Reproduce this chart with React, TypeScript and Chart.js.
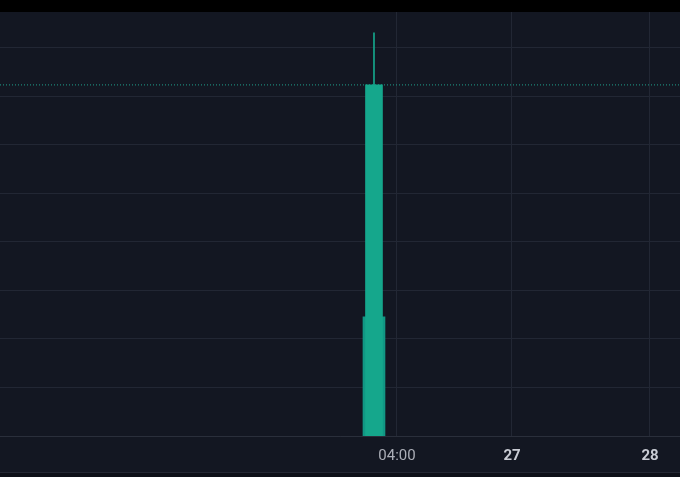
import React, { useEffect, useRef } from "react";
import { Chart, registerables } from "chart.js";

Chart.register(...registerables);

// hours relative to the candle's open time (26th, 00:00)
const candleHours: number[] = [0];
const opens: number[] = [95];
const highs: number[] = [183.1];
const lows: number[] = [90];
const closes: number[] = [172.4];
const volumes: number[] = [28.1];

const priceGrid: number[] = [100, 110, 120, 130, 140, 150, 160, 170, 180];
const timeTicks: number[] = [4, 24, 48];
const timeLabels: string[] = ["04:00", "27", "28"];
const dayTicks: number[] = [24, 48];

const X_MIN = -65.04;
const X_MAX = 53.22;
const Y_MIN = 100;
const Y_MAX = 187.42;

const UP = "#15a78c";
const VOL = "#119884";
const GRID = "#222734";

const App: React.FC = () => {
	const chartRef = useRef<HTMLCanvasElement>(null);
	const chartInstance = useRef<Chart>();

	useEffect(() => {
		if (!chartRef.current) return;
		const ctx = chartRef.current.getContext("2d");
		if (!ctx) return;

		const last = closes[closes.length - 1];

		chartInstance.current = new Chart(ctx, {
			type: "bar",
			data: {
				datasets: [
					{
						type: "line",
						label: "price line",
						data: [
							{ x: X_MIN, y: last },
							{ x: X_MAX, y: last },
						],
						borderColor: "rgba(30,160,140,0.8)",
						borderWidth: 1.2,
						borderDash: [1, 2],
						pointRadius: 0,
						yAxisID: "y",
						order: 4,
					} as any,
					{
						label: "volume",
						data: candleHours.map((h, i) => ({ x: h, y: volumes[i] })),
						backgroundColor: VOL,
						barThickness: 22,
						grouped: false,
						yAxisID: "yv",
						order: 3,
					},
					{
						label: "wick",
						data: candleHours.map((h, i) => ({ x: h, y: [lows[i], highs[i]] })),
						backgroundColor: UP,
						barThickness: 1,
						grouped: false,
						yAxisID: "y",
						order: 2,
					},
					{
						label: "body",
						data: candleHours.map((h, i) => ({ x: h, y: [opens[i], closes[i]] })),
						backgroundColor: UP,
						barThickness: 17,
						grouped: false,
						yAxisID: "y",
						order: 1,
					},
				] as any,
			},
			options: {
				animation: false,
				responsive: true,
				maintainAspectRatio: false,
				layout: { padding: 0 },
				plugins: {
					legend: { display: false },
					tooltip: { enabled: false },
				},
				scales: {
					x: {
						type: "linear",
						min: X_MIN,
						max: X_MAX,
						offset: false,
						afterBuildTicks: (scale: any) => {
							scale.ticks = timeTicks.map((v) => ({ value: v }));
						},
						afterFit: (scale: any) => {
							scale.height = 36;
						},
						grid: {
							color: GRID,
							drawTicks: false,
							offset: false,
						},
						border: { display: true, color: "#2a2f3b" },
						ticks: {
							padding: 11,
							maxRotation: 0,
							autoSkip: false,
							callback: (value: any) => {
								const i = timeTicks.indexOf(Number(value));
								return i >= 0 ? timeLabels[i] : "";
							},
							color: (c: any) =>
								dayTicks.includes(c.tick?.value) ? "#c9ccd4" : "#abaeb7",
							font: (c: any) => ({
								family: "Roboto",
								size: 15,
								weight: dayTicks.includes(c.tick?.value) ? "bold" : "normal",
							}),
						},
					},
					y: {
						type: "linear",
						position: "right",
						min: Y_MIN,
						max: Y_MAX,
						afterBuildTicks: (scale: any) => {
							scale.ticks = priceGrid.map((v) => ({ value: v }));
						},
						afterFit: (scale: any) => {
							scale.width = 0;
						},
						grid: { color: GRID, drawTicks: false },
						border: { display: false },
						ticks: { display: false },
					},
					yv: {
						type: "linear",
						display: false,
						min: 0,
						max: 100,
					},
				},
			} as any,
		});

		return () => {
			if (chartInstance.current) {
				chartInstance.current.destroy();
			}
		};
	}, []);

	return (
		<div style={{ position: "fixed", left: 0, top: 0, width: 680, height: 477, background: "#000" }}>
			<div
				style={{
					position: "absolute",
					left: 0,
					top: 12,
					width: 680,
					height: 460,
					background: "#131722",
				}}
			>
				<canvas ref={chartRef} />
			</div>
			<div
				style={{
					position: "absolute",
					left: 0,
					top: 472,
					width: 680,
					height: 5,
					background: "#0d1018",
					borderTop: "1px solid #232733",
				}}
			/>
		</div>
	);
};

export default App;
